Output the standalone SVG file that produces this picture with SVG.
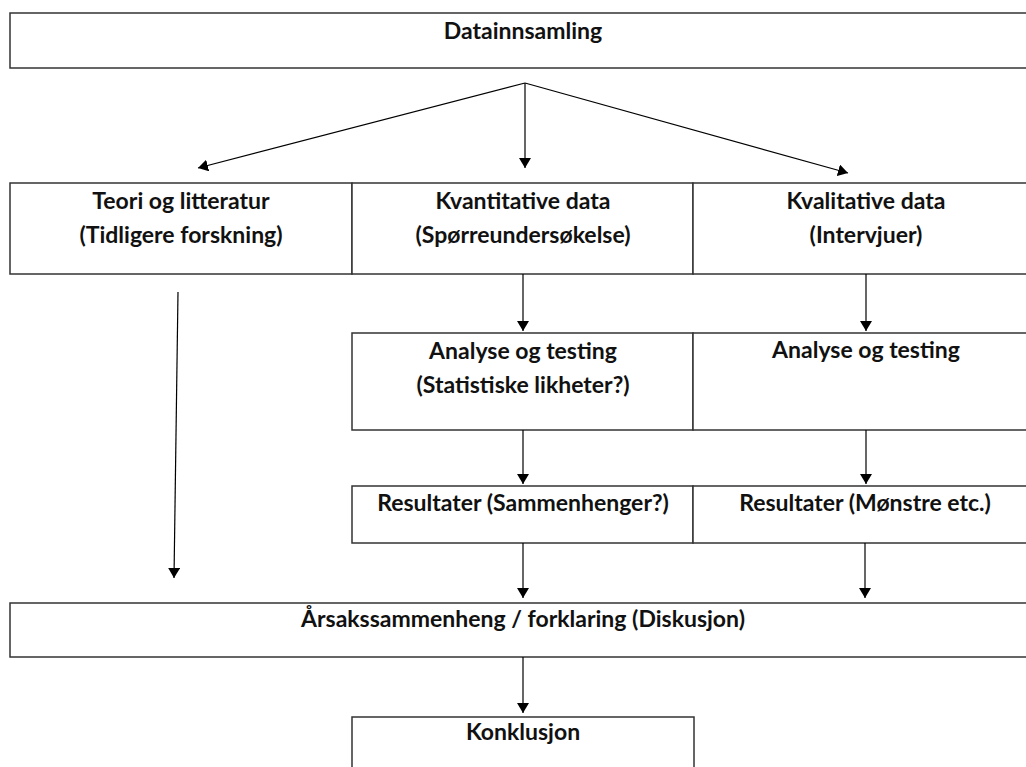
<svg xmlns="http://www.w3.org/2000/svg" width="1026" height="767" viewBox="0 0 1026 767">
<defs>
<marker id="ah" viewBox="0 0 10 12" refX="10" refY="6" markerWidth="10" markerHeight="12" markerUnits="userSpaceOnUse" orient="auto">
<path d="M0,0 L10,6 L0,12 Z" fill="#000"/>
</marker>
<style>
.box{fill:#fff;stroke:#333;stroke-width:1.5}
.t{font-family:"Lato","Liberation Sans",sans-serif;font-weight:bold;font-size:23px;fill:#111;text-anchor:middle}
.c{stroke:#000;stroke-width:1.2;fill:none;marker-end:url(#ah)}
</style>
</defs>
<rect width="1026" height="767" fill="#fff"/>
<g id="datainnsamling"><rect class="box" x="10" y="13" width="1030" height="55"/><text class="t" x="523" y="39">Datainnsamling</text></g>
<g id="teori"><rect class="box" x="10" y="183" width="342" height="91"/><text class="t" x="181" y="209">Teori og litteratur</text><text class="t" x="181" y="243">(Tidligere forskning)</text></g>
<g id="kvantitativ"><rect class="box" x="352" y="183" width="341" height="91"/><text class="t" x="523" y="209">Kvantitative data</text><text class="t" x="523" y="243">(Spørreundersøkelse)</text></g>
<g id="kvalitativ"><rect class="box" x="693" y="183" width="340" height="91"/><text class="t" x="866" y="209">Kvalitative data</text><text class="t" x="866" y="243">(Intervjuer)</text></g>
<g id="analyse1"><rect class="box" x="352" y="333" width="341" height="97"/><text class="t" x="523" y="359">Analyse og testing</text><text class="t" x="523" y="393">(Statistiske likheter?)</text></g>
<g id="analyse2"><rect class="box" x="693" y="333" width="340" height="97"/><text class="t" x="866" y="358">Analyse og testing</text></g>
<g id="resultater1"><rect class="box" x="352" y="486" width="341" height="57"/><text class="t" x="523" y="511">Resultater (Sammenhenger?)</text></g>
<g id="resultater2"><rect class="box" x="693" y="486" width="340" height="57"/><text class="t" x="865" y="511">Resultater (Mønstre etc.)</text></g>
<g id="arsak"><rect class="box" x="10" y="603" width="1030" height="54"/><text class="t" x="523" y="627">Årsakssammenheng / forklaring (Diskusjon)</text></g>
<g id="konklusjon"><rect class="box" x="352" y="717" width="342" height="60"/><text class="t" x="523" y="740">Konklusjon</text></g>
<g id="connectors">
<line class="c" x1="525" y1="83" x2="198" y2="168"/>
<line class="c" x1="525" y1="83" x2="525" y2="168"/>
<line class="c" x1="525" y1="83" x2="848" y2="173"/>
<line class="c" x1="523" y1="274" x2="523" y2="331"/>
<line class="c" x1="866" y1="274" x2="866" y2="331"/>
<line class="c" x1="523" y1="430" x2="523" y2="484"/>
<line class="c" x1="866" y1="430" x2="866" y2="484"/>
<line class="c" x1="523" y1="543" x2="523" y2="598"/>
<line class="c" x1="865" y1="543" x2="865" y2="598"/>
<line class="c" x1="178" y1="292" x2="174" y2="578"/>
<line class="c" x1="523" y1="657" x2="523" y2="713"/>
</g>
</svg>
